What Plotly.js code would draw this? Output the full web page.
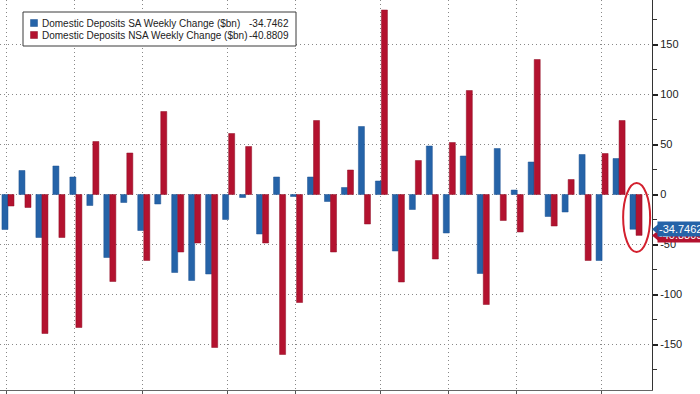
<!DOCTYPE html>
<html>
<head>
<meta charset="utf-8">
<script src="https://cdn.plot.ly/plotly-3.0.1.min.js"></script>
<style>
html,body{margin:0;padding:0;background:#fff;overflow:hidden;}
#chart{width:700px;height:394px;}
</style>
</head>
<body>
<div id="chart"></div>
<script>
// ---- data ----
var saChange = [-35, 24, -43, 28.5, 17.5, -11, -63, -8, -36, -9.5, -78, -86, -79.5, -25, -3, -39.5, 17.5, -2, 17.5, -7, 7, 68, 13.5, -56.5, -15, 48.5, -38.5, 38.5, -79, 46, 4.5, 32.5, -22, -17.5, 40, -66, 36, -34.7462];
var nsaChange = [-11.5, -13, -139, -43, -133, 53, -87, 41.5, -66, 83, -57.5, -48.5, -153, 61, 48, -48.5, -160, -108, 74, -57.5, 24.5, -29.5, 184.5, -87.5, 34, -64.5, 52, 104, -110, -26, -37.5, 135, -31.5, 15, -66, 41, 74, -40.8809];
var monthStarts = [0, 4, 8, 13, 17, 22, 26, 30, 35];
var monthLabels = ['Jan', 'Feb', 'Mar', 'Apr', 'May', 'Jun', 'Jul', 'Aug', 'Sep'];
var yTickVals = [-150, -100, -50, 0, 50, 100, 150];
var yTickText = ['-150', '-100', '-50', '0', '50', '100', '150'];
var saName = 'Domestic Deposits SA Weekly Change ($bn)';
var nsaName = 'Domestic Deposits NSA Weekly Change ($bn)';

// ---- layout constants ----
var W = 700, H = 394, ML = 0, MR = 48, MT = 0, MB = 4;
var PW = W - ML - MR, PH = H - MT - MB;
function px(x) { return (x - ML) / PW; }
function py(y) { return 1 - (y - MT) / PH; }

var BLUE = '#2563a8', RED = '#b3122f';
var weeks = saChange.map(function (_, i) { return i; });
var n = weeks.length;
var xRange = [-0.47, n - 1 + 0.94];

var traces = [
  {type: 'bar', name: saName, x: weeks, y: saChange, marker: {color: BLUE, line: {color: '#1d5190', width: 0.5}}, hoverinfo: 'y'},
  {type: 'bar', name: nsaName, x: weeks, y: nsaChange, marker: {color: RED, line: {color: '#8f0e25', width: 0.5}}, hoverinfo: 'y'}
];

var gridVals = monthStarts.map(function (v) { return v - 0.06; });
var annotations = [];
var shapes = [];

// month labels (centered in each month, mostly below visible area)
monthStarts.forEach(function (s, i) {
  var e = (i + 1 < monthStarts.length) ? monthStarts[i + 1] : xRange[1] + 0.06;
  annotations.push({xref: 'x', yref: 'paper', x: (s + e) / 2 - 0.06, y: py(390.5), yanchor: 'top', xanchor: 'center',
    text: monthLabels[i], showarrow: false, borderpad: 0, font: {family: 'Liberation Sans, Arial, sans-serif', size: 11, color: '#222'}});
});

// legend box
shapes.push({type: 'rect', xref: 'paper', yref: 'paper', x0: px(23), x1: px(296), y0: py(12), y1: py(46),
  line: {color: '#3a3a3a', width: 1}, fillcolor: '#ffffff', layer: 'above'});
shapes.push({type: 'rect', xref: 'paper', yref: 'paper', x0: px(30.5), x1: px(37.5), y0: py(19.5), y1: py(26.5),
  line: {color: '#1d5190', width: 0.5}, fillcolor: BLUE, layer: 'above'});
shapes.push({type: 'rect', xref: 'paper', yref: 'paper', x0: px(30.5), x1: px(37.5), y0: py(31.5), y1: py(38.5),
  line: {color: '#8f0e25', width: 0.5}, fillcolor: RED, layer: 'above'});
var legFont = {family: 'Liberation Sans, Arial, sans-serif', size: 10, color: '#222'};
annotations.push({xref: 'paper', yref: 'paper', x: px(41), y: py(23), xanchor: 'left', yanchor: 'middle', text: saName, showarrow: false, font: legFont, borderpad: 0});
annotations.push({xref: 'paper', yref: 'paper', x: px(41), y: py(35), xanchor: 'left', yanchor: 'middle', text: nsaName, showarrow: false, font: legFont, borderpad: 0});
annotations.push({xref: 'paper', yref: 'paper', x: px(290), y: py(23), xanchor: 'right', yanchor: 'middle', text: saChange[n - 1].toFixed(4), showarrow: false, font: legFont, borderpad: 0});
annotations.push({xref: 'paper', yref: 'paper', x: px(290), y: py(35), xanchor: 'right', yanchor: 'middle', text: nsaChange[n - 1].toFixed(4), showarrow: false, font: legFont, borderpad: 0});

// last value tags on the right axis (red below, blue on top)
var tagFont = {family: 'Liberation Sans, Arial, sans-serif', size: 11, color: '#ffffff'};
shapes.push({type: 'path', xref: 'paper', yref: 'y', path: 'M ' + px(652) + ' ' + nsaChange[n - 1] + ' L ' + px(658) + ' ' + (nsaChange[n - 1] + 5) + ' L ' + px(658) + ' ' + (nsaChange[n - 1] - 5) + ' Z', fillcolor: RED, line: {width: 0}, layer: 'above'});
annotations.push({xref: 'paper', yref: 'y', x: px(657), y: nsaChange[n - 1], xanchor: 'left', yanchor: 'middle', text: nsaChange[n - 1].toFixed(4), showarrow: false, bgcolor: RED, font: tagFont, borderpad: 1});
shapes.push({type: 'path', xref: 'paper', yref: 'y', path: 'M ' + px(652) + ' ' + saChange[n - 1] + ' L ' + px(658) + ' ' + (saChange[n - 1] + 5) + ' L ' + px(658) + ' ' + (saChange[n - 1] - 5) + ' Z', fillcolor: BLUE, line: {width: 0}, layer: 'above'});
annotations.push({xref: 'paper', yref: 'y', x: px(657), y: saChange[n - 1], xanchor: 'left', yanchor: 'middle', text: saChange[n - 1].toFixed(4), showarrow: false, bgcolor: BLUE, font: tagFont, borderpad: 1});

// red ellipse around the latest week
shapes.push({type: 'circle', xref: 'x', yref: 'y', x0: n - 1 - 0.76, x1: n - 1 + 0.83, y0: -57.5, y1: 11.5,
  line: {color: '#d3202e', width: 2}, fillcolor: 'rgba(0,0,0,0)', layer: 'above'});

var layout = {
  width: W, height: H,
  margin: {l: ML, r: MR, t: MT, b: MB, pad: 0},
  paper_bgcolor: '#ffffff', plot_bgcolor: '#ffffff',
  showlegend: false,
  barmode: 'group', bargap: 0.29, bargroupgap: 0,
  font: {family: 'Liberation Sans, Arial, sans-serif', size: 11, color: '#222'},
  xaxis: {
    type: 'linear', range: xRange, fixedrange: true,
    tickmode: 'array', tickvals: gridVals, ticktext: gridVals.map(function () { return ''; }),
    showgrid: true, gridcolor: '#888888', griddash: '1px,3px', gridwidth: 1,
    ticks: 'outside', ticklen: 4, tickcolor: '#555', tickwidth: 1,
    showline: true, linecolor: '#666', linewidth: 1, zeroline: false
  },
  yaxis: {
    side: 'right', range: [-195.5, 194.5], fixedrange: true,
    tickmode: 'array', tickvals: yTickVals, ticktext: yTickText,
    showgrid: true, gridcolor: '#888888', griddash: '1px,3px', gridwidth: 1,
    ticks: 'outside', ticklen: 5, tickwidth: 2, tickcolor: '#222',
    minor: {dtick: 25, tick0: 0, ticks: 'outside', ticklen: 4, tickwidth: 1, tickcolor: '#333', showgrid: false},
    showline: true, linecolor: '#333', linewidth: 1, zeroline: false,
    tickfont: {family: 'Liberation Sans, Arial, sans-serif', size: 11, color: '#222'}
  },
  shapes: shapes,
  annotations: annotations
};

Plotly.newPlot('chart', traces, layout, {displayModeBar: false, staticPlot: true});
</script>
</body>
</html>
